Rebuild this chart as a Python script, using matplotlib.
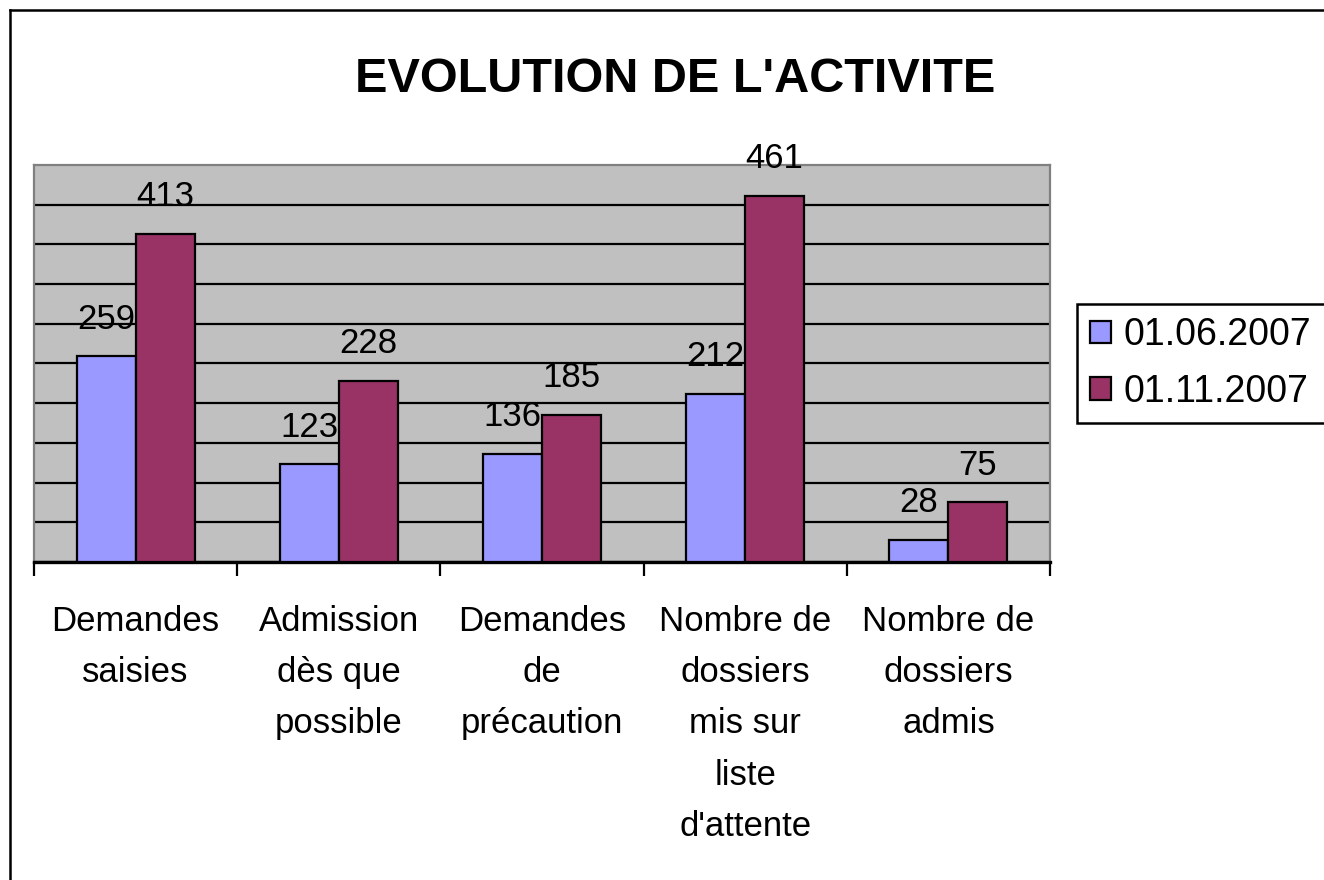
import matplotlib.pyplot as plt
from matplotlib.lines import Line2D
import numpy as np

categories = [
    "Demandes\nsaisies",
    "Admission\ndès que\npossible",
    "Demandes\nde\nprécaution",
    "Nombre de\ndossiers\nmis sur\nliste\nd'attente",
    "Nombre de\ndossiers\nadmis",
]
series_names = ["01.06.2007", "01.11.2007"]
values_juin = [259, 123, 136, 212, 28]
values_nov = [413, 228, 185, 461, 75]
colors = ["#9999FF", "#993366"]

plain = ["Liberation Sans", "DejaVu Sans"]

fig = plt.figure(figsize=(13.24, 8.8), dpi=100)
ax = fig.add_axes([34 / 1324, 1 - 562 / 880, (1050 - 34) / 1324, (562 - 165) / 880])
ax.set_facecolor("#C0C0C0")

x = np.arange(len(categories))
w = 0.29
for i, vals in enumerate([values_juin, values_nov]):
    off = (i - 0.5) * w
    ax.bar(x + off, vals, width=w, color=colors[i], edgecolor="black",
           linewidth=1.6, label=series_names[i], zorder=3)
    for xi, v in zip(x + off, vals):
        ax.annotate(str(v), (xi, v), xytext=(0, 15), textcoords="offset points",
                    ha="center", va="bottom", fontsize=25, family=plain, zorder=4)

ax.set_xlim(-0.5, len(categories) - 0.5)
ax.set_ylim(0, 500)
ax.set_yticks(np.arange(0, 500, 50))
ax.yaxis.grid(True, color="black", linewidth=1.6)
ax.set_axisbelow(True)
ax.tick_params(axis="y", length=0, labelleft=False)

# category boundaries as ticks, names as minor labels
ax.set_xticks(np.arange(-0.5, len(categories), 1.0))
ax.set_xticklabels([])
ax.tick_params(axis="x", which="major", direction="out", length=10, width=1.6, color="black")
ax.set_xticks(x, minor=True)
ax.set_xticklabels(categories, minor=True, fontsize=25, family=plain, linespacing=1.7)
ax.tick_params(axis="x", which="minor", length=0, pad=31)

for s in ["left", "top", "right"]:
    ax.spines[s].set_color("#808080")
    ax.spines[s].set_linewidth(1.6)
ax.spines["bottom"].set_color("black")
ax.spines["bottom"].set_linewidth(2.4)

fig.text(675 / 1324, 1 - 80 / 880, "EVOLUTION DE L'ACTIVITE", ha="center", va="center",
         fontsize=35, fontweight="bold", family=plain)

leg = ax.legend(loc="upper left", bbox_to_anchor=(1077 / 1324, 1 - 304 / 880),
                bbox_transform=fig.transFigure, borderaxespad=0, fancybox=False,
                edgecolor="black", framealpha=1, prop={"family": plain, "size": 27},
                handlelength=0.55, handleheight=0.55, handletextpad=0.35,
                borderpad=0.35, labelspacing=0.55)
leg.get_frame().set_linewidth(1.8)
for h in leg.legend_handles:
    h.set_edgecolor("black")
    h.set_linewidth(1.6)

# outer chart border
fig.add_artist(Line2D([10 / 1324, 10 / 1324], [0, 1 - 10 / 880], color="black", linewidth=1.8,
                      transform=fig.transFigure))
fig.add_artist(Line2D([10 / 1324, 1], [1 - 10 / 880, 1 - 10 / 880], color="black", linewidth=1.8,
                      transform=fig.transFigure))

fig.savefig("out.png", dpi=100, facecolor="white")
